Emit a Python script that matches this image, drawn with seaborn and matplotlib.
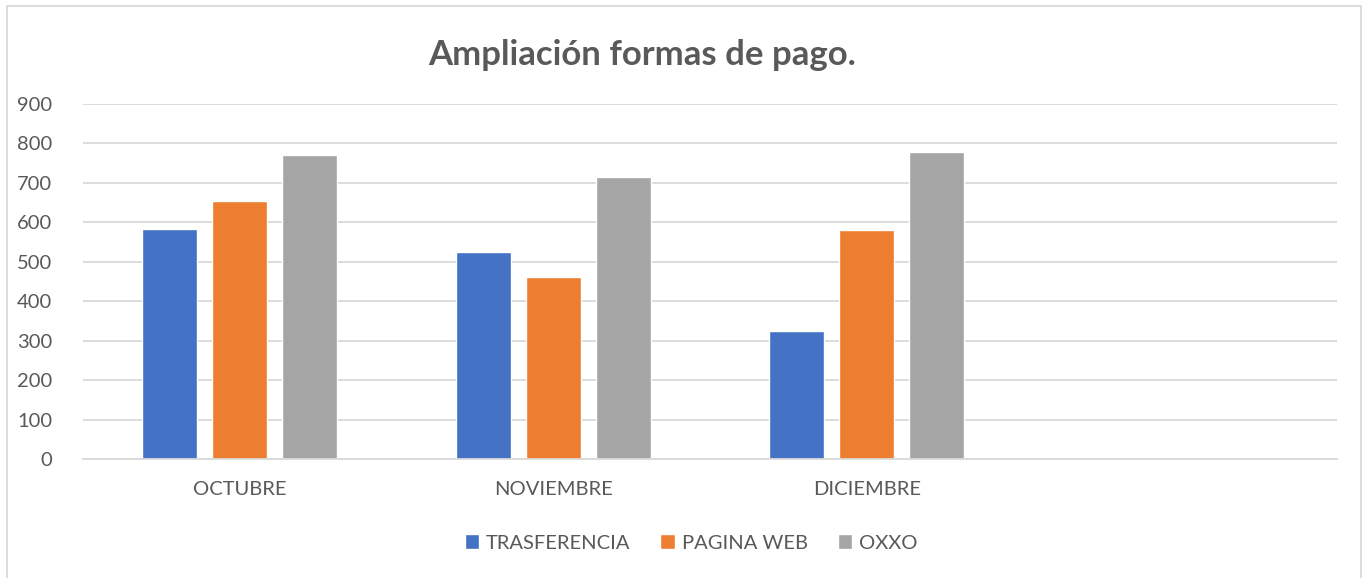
import numpy as np
import pandas as pd
import seaborn as sns
import matplotlib
matplotlib.use('Agg')
import matplotlib.pyplot as plt
from matplotlib.patches import Rectangle

months = ['OCTUBRE', 'NOVIEMBRE', 'DICIEMBRE', '']
series = ['TRASFERENCIA', 'PAGINA WEB', 'OXXO']
trasferencia = [582, 526, 325]
pagina_web = [655, 462, 581]
oxxo = [770, 716, 778]
colors = ['#4472C4', '#ED7D31', '#A5A5A5']
text_col = '#595959'

rows = []
for name, vals in zip(series, [trasferencia, pagina_web, oxxo]):
    for m, v in zip(months[:3], vals):
        rows.append({'mes': m, 'forma': name, 'valor': v})
df = pd.DataFrame(rows)

sns.set_style('white')
plt.rcParams['font.family'] = ['Lato', 'DejaVu Sans']

fig = plt.figure(figsize=(13.68, 5.78), dpi=100)
ax = fig.add_axes([83 / 1368, 1 - 459 / 578, (1337 - 83) / 1368, (459 - 104) / 578])

sns.barplot(data=df, x='mes', y='valor', hue='forma', order=months, hue_order=series,
            palette=colors, width=0.67, gap=0.21, saturation=1, ax=ax, legend=True)

ax.set_ylim(0, 900)
ax.set_yticks(range(0, 901, 100))
ax.set_xlim(-0.5, 3.5)
ax.grid(axis='y', color='#D9D9D9', linewidth=1.3)
ax.set_axisbelow(True)
for s in ['top', 'right', 'left']:
    ax.spines[s].set_visible(False)
ax.spines['bottom'].set_color('#D9D9D9')
ax.spines['bottom'].set_linewidth(1.3)
ax.tick_params(axis='both', length=0, labelsize=14.5, colors=text_col)
ax.tick_params(axis='x', pad=16)
ax.tick_params(axis='y', pad=22)
ax.set_xlabel(None)
ax.set_ylabel(None)

handles, labels = ax.get_legend_handles_labels()
ax.legend(handles, labels, loc='center', bbox_to_anchor=(691 / 1368, 1 - 543 / 578), bbox_transform=fig.transFigure,
          ncol=3, frameon=False, fontsize=14.5, labelcolor=text_col, handlelength=0.7, handleheight=0.7,
          handletextpad=0.35, columnspacing=1.5)

fig.text(642 / 1368, 1 - 55 / 578, 'Ampliación formas de pago.', ha='center', va='center',
         fontsize=25, fontweight='bold', color=text_col)

fig.patches.append(Rectangle((7 / 1368, -0.01), (1361 - 7) / 1368, 1 - 6 / 578 + 0.01,
                             transform=fig.transFigure, fill=False, edgecolor='#D9D9D9', linewidth=1.3))

fig.savefig('out.png', dpi=100, facecolor='white')
